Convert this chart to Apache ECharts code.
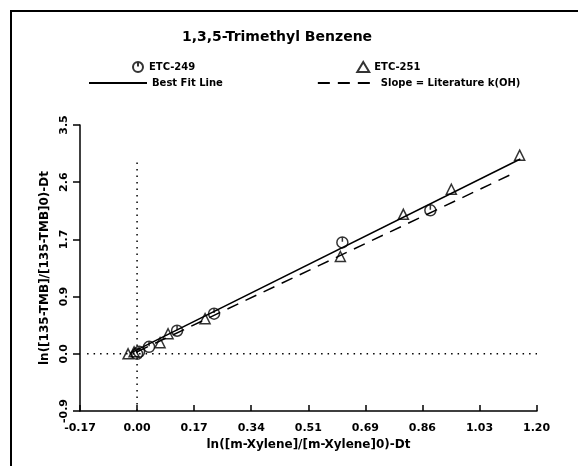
<!DOCTYPE html>
<html>
<head>
<meta charset="utf-8">
<script src="https://cdn.jsdelivr.net/npm/echarts@6/dist/echarts.min.js"></script>
<style>
  html, body { margin: 0; padding: 0; background: #fff; }
  #chart { width: 578px; height: 466px; }
</style>
</head>
<body>
<div id="chart"></div>
<script>
// ln(m-xylene ratio) vs ln(135-TMB ratio)
var etc249 = [
  [0.000, 0.000], [0.006, 0.030], [0.036, 0.107], [0.120, 0.353],
  [0.231, 0.614], [0.616, 1.704], [0.880, 2.195]
]
var etc251 = [
  [-0.027, 0.000], [-0.009, 0.030], [0.069, 0.169], [0.093, 0.307],
  [0.204, 0.537], [0.610, 1.489], [0.799, 2.134], [0.943, 2.517], [1.148, 3.039]
]
var bestFit = [[-0.02, 0.01], [1.15, 2.98]]
var literature = [[0.0, 0.03], [1.125, 2.75]]
var zeroX = [[0, -0.875], [0, 2.95]]
var zeroY = [[-0.15, 0], [1.2, 0]]

var xTicks = ['-0.17', '0.00', '0.17', '0.34', '0.51', '0.69', '0.86', '1.03', '1.20']
var yTicks = ['-0.9', '0.0', '0.9', '1.7', '2.6', '3.5']

var font = 'DejaVu Sans'
var circleTick = 'path://M10,0 A10,10 0 1,1 9.99,0 Z M10,0 L10,9'
var legendText = { fontFamily: font, fontSize: 10, fontWeight: 'bold', color: '#000' }
var nameText = { fontFamily: font, fontSize: 12, fontWeight: 'bold', color: '#000' }

var chart = echarts.init(document.getElementById('chart'))
chart.setOption({
  backgroundColor: '#fff',
  animation: false,
  textStyle: { fontFamily: font, color: '#000', fontWeight: 'bold' },
  title: {
    text: '1,3,5-Trimethyl Benzene',
    left: 182,
    top: 30,
    padding: 0,
    textStyle: { fontFamily: font, fontSize: 14, fontWeight: 'bold', color: '#000' }
  },
  graphic: [
    { type: 'polyline', shape: { points: [[11, 466], [11, 11], [578, 11]] },
      style: { stroke: '#000', lineWidth: 2, fill: null } }
  ],
  legend: [
    {
      data: ['ETC-249', 'ETC-251'],
      left: 132, top: 61, padding: 0,
      itemWidth: 12, itemHeight: 10, itemGap: 161,
      textStyle: legendText
    },
    {
      data: ['Best Fit Line', 'Slope = Literature k(OH)'],
      left: 88, top: 78, padding: 0,
      itemWidth: 58, itemHeight: 10, itemGap: 94,
      itemStyle: { opacity: 0 },
      textStyle: legendText
    }
  ],
  grid: { left: 80, right: 41, top: 125, bottom: 55 },
  xAxis: {
    type: 'value',
    min: -0.17125, max: 1.2, interval: 0.17125,
    name: 'ln([m-Xylene]/[m-Xylene]0)-Dt',
    nameLocation: 'middle', nameGap: 28,
    nameTextStyle: nameText,
    axisLine: { onZero: false, lineStyle: { color: '#000', width: 1.5 } },
    axisTick: { inside: true, length: 6, lineStyle: { color: '#000', width: 1.5 } },
    axisLabel: {
      color: '#000', fontSize: 11, fontWeight: 'bold', margin: 12,
      formatter: function (v, i) { return xTicks[i] }
    },
    splitLine: { show: false }
  },
  yAxis: {
    type: 'value',
    min: -0.875, max: 3.5, interval: 0.875,
    name: 'ln([135-TMB]/[135-TMB]0)-Dt',
    nameLocation: 'middle', nameGap: 27, nameRotate: 90,
    nameTextStyle: nameText,
    axisLine: { onZero: false, lineStyle: { color: '#000', width: 1.5 } },
    axisTick: { length: 7, lineStyle: { color: '#000', width: 1.5 } },
    axisLabel: {
      color: '#000', fontSize: 11, fontWeight: 'bold', rotate: 90, margin: 10,
      formatter: function (v, i) { return yTicks[i] }
    },
    splitLine: { show: false }
  },
  series: [
    {
      name: 'zeroX', type: 'line', data: zeroX, symbol: 'none', silent: true,
      lineStyle: { color: '#000', width: 1.5, type: [1.5, 5] }
    },
    {
      name: 'zeroY', type: 'line', data: zeroY, symbol: 'none', silent: true,
      lineStyle: { color: '#000', width: 1.5, type: [1.5, 5] }
    },
    {
      name: 'Best Fit Line', type: 'line', data: bestFit, symbol: 'none',
      itemStyle: { color: '#000' },
      lineStyle: { color: '#000', width: 1.5 }
    },
    {
      name: 'Slope = Literature k(OH)', type: 'line', data: literature, symbol: 'none',
      itemStyle: { color: '#000' },
      lineStyle: { color: '#000', width: 1.5, type: [12, 8] }
    },
    {
      name: 'ETC-249', type: 'scatter', data: etc249,
      symbol: circleTick, symbolSize: 11, symbolKeepAspect: true,
      itemStyle: { color: 'transparent', borderColor: '#000', borderWidth: 1.5 }
    },
    {
      name: 'ETC-251', type: 'scatter', data: etc251,
      symbol: 'triangle', symbolSize: 10, symbolKeepAspect: true,
      itemStyle: { color: 'transparent', borderColor: '#000', borderWidth: 1.5 }
    }
  ]
})
</script>
</body>
</html>
